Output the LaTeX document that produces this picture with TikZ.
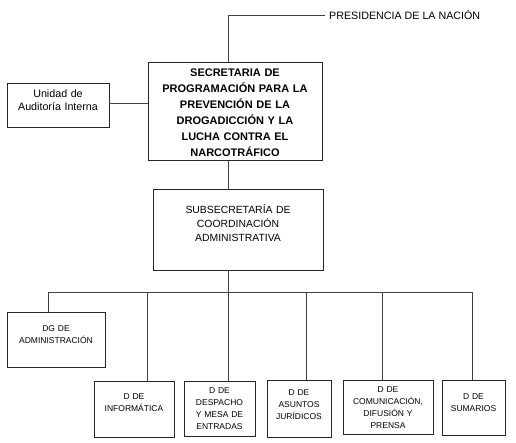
\documentclass[tikz,border=0pt]{standalone}
\usepackage{fontspec}
\setmainfont{Liberation Sans}
\usepackage{tikz}
\usetikzlibrary{positioning}

\begin{document}
\begin{tikzpicture}[
		x=1pt, y=-1pt,
		orgbox/.style={
			draw=black!85,
			line width=0.6pt,
			anchor=north,
			align=center,
			inner xsep=2pt,
			inner ysep=0pt,
			font=\fontsize{8.5}{12}\selectfont
		},
		link/.style={draw=black!75, line width=0.6pt}
	]
		\useasboundingbox (0,0) rectangle (516,443);

		% top levels
		\node[anchor=west, inner xsep=4pt, font=\fontsize{10.7}{12}\selectfont] (presidencia) at (325,15) {PRESIDENCIA DE LA NACIÓN};
		\node[orgbox, text width=170pt, text height=14.6pt, text depth=83.4pt,
			font=\fontsize{11}{16}\selectfont\bfseries] (secretaria) at (235,62) {
			SECRETARIA DE\\
			PROGRAMACIÓN PARA LA\\
			PREVENCIÓN DE LA\\
			DROGADICCIÓN Y LA\\
			LUCHA CONTRA EL\\
			NARCOTRÁFICO
		};
		\node[orgbox, text width=98pt, text height=14.3pt, text depth=30pt,
			font=\fontsize{10.7}{13}\selectfont] (auditoria) at (58,83) {
			Unidad de\\Auditoría Interna
		};
		\node[orgbox, text width=166pt, text height=24.3pt, text depth=56.7pt,
			font=\fontsize{10.4}{13.8}\selectfont] (subsecretaria) at (238,189) {
			SUBSECRETARÍA DE\\
			COORDINACIÓN\\
			ADMINISTRATIVA
		};

		% direcciones
		\node[orgbox, text width=94pt, text height=18.7pt, text depth=36.3pt] (administracion) at (56,312) {
			DG DE\\ADMINISTRACIÓN
		};
		\node[orgbox, text width=76pt, text height=17.8pt, text depth=38pt] (informatica) at (134,381) {
			D DE\\INFORMÁTICA
		};
		\node[orgbox, text width=67pt, text height=12.3pt, text depth=42.7pt] (despacho) at (219.5,381) {
			D DE\\DESPACHO\\Y MESA DE\\ENTRADAS
		};
		\node[orgbox, text width=60pt, text height=14.7pt, text depth=42.3pt] (juridicos) at (299,380) {
			D DE\\ASUNTOS\\JURÍDICOS
		};
		\node[orgbox, text width=86pt, text height=12.3pt, text depth=41.7pt] (comunicacion) at (388,380) {
			D DE\\COMUNICACIÓN,\\DIFUSIÓN Y\\PRENSA
		};
		\node[orgbox, text width=59pt, text height=19pt, text depth=36pt] (sumarios) at (473.5,380) {
			D DE\\SUMARIOS
		};

		% trunk and bus
		\coordinate (trunk) at (228,15);
		\coordinate (busleft) at (48,292);
		\coordinate (busright) at (472,292);
		\coordinate (drop2) at (147,292);
		\coordinate (drop4) at (306,292);
		\coordinate (drop5) at (382,292);

		\draw[link] (presidencia.west) -- (trunk) -- (trunk |- secretaria.north);
		\draw[link] (auditoria.east |- 0,103) -- (secretaria.west |- 0,103);
		\draw[link] (trunk |- secretaria.south) -- (trunk |- subsecretaria.north);
		\draw[link] (trunk |- subsecretaria.south) -- (trunk |- busleft);
		\draw[link] (busleft) -- (busright);
		\draw[link] (busleft) -- (busleft |- administracion.north);
		\draw[link] (drop2) -- (drop2 |- informatica.north);
		\draw[link] (trunk |- busleft) -- (trunk |- despacho.north);
		\draw[link] (drop4) -- (drop4 |- juridicos.north);
		\draw[link] (drop5) -- (drop5 |- comunicacion.north);
		\draw[link] (busright) -- (busright |- sumarios.north);
	\end{tikzpicture}
\end{document}
